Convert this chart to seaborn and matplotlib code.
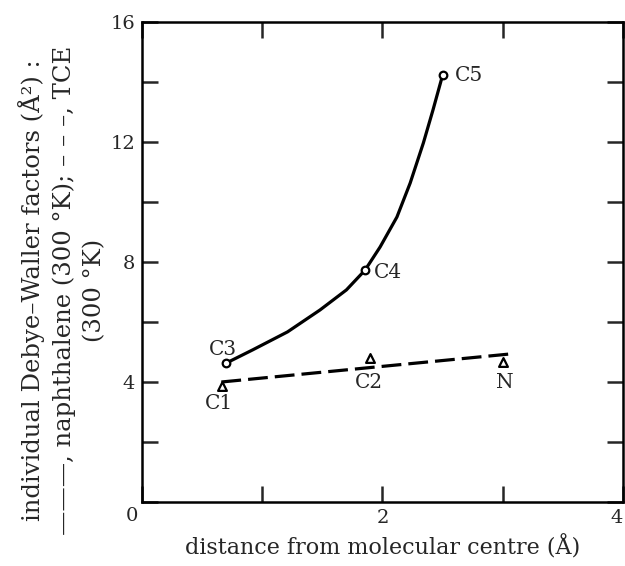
import matplotlib
matplotlib.use("Agg")
import matplotlib.pyplot as plt
import seaborn as sns
import pandas as pd

# naphthalene (solid curve)
naph_x = [0.70, 0.92, 1.21, 1.48, 1.70, 1.855, 1.98, 2.12, 2.23, 2.34, 2.42, 2.50]
naph_y = [4.63, 5.07, 5.67, 6.40, 7.07, 7.73, 8.50, 9.50, 10.63, 11.97, 13.07, 14.23]
# naphthalene atoms (open circles)
naph_atom_x = [0.70, 1.855, 2.50]
naph_atom_y = [4.63, 7.73, 14.23]
naph_labels = ["C3", "C4", "C5"]

# TCE dashed fit line and atoms (open triangles)
tce_line_x = [0.66, 3.05]
tce_line_y = [4.00, 4.93]
tce_atom_x = [0.665, 1.90, 3.00]
tce_atom_y = [3.87, 4.80, 4.67]
tce_labels = ["C1", "C2", "N"]

sns.set_theme(style="ticks")
plt.rcParams["font.family"] = ["DejaVu Serif"]
plt.rcParams["mathtext.fontset"] = "dejavuserif"

fig = plt.figure(figsize=(6.25, 5.66), dpi=100)
ax = fig.add_axes([142 / 625, 1 - 502 / 566, 481 / 625, 480 / 566])

df_n = pd.DataFrame({"x": naph_x, "y": naph_y})
df_t = pd.DataFrame({"x": tce_line_x, "y": tce_line_y})
sns.lineplot(data=df_n, x="x", y="y", sort=False, estimator=None, ax=ax,
             color="black", lw=2.3, solid_joinstyle="round")
sns.lineplot(data=df_t, x="x", y="y", sort=False, estimator=None, ax=ax,
             color="black", lw=2.3, linestyle=(0, (6.2, 2.2)))
sns.scatterplot(x=naph_atom_x, y=naph_atom_y, ax=ax, marker="o", s=30,
                facecolor="white", edgecolor="black", linewidth=1.6, zorder=5)
sns.scatterplot(x=tce_atom_x, y=tce_atom_y, ax=ax, marker="^", s=40,
                facecolor="white", edgecolor="black", linewidth=1.6, zorder=5)

fs_lab = 14.5
# point labels
offsets = {"C3": (-3, 14), "C4": (23, -2), "C5": (26, 0),
           "C1": (-3, -18), "C2": (-2, -24), "N": (2, -21)}
for xs, ys, labs in [(naph_atom_x, naph_atom_y, naph_labels),
                     (tce_atom_x, tce_atom_y, tce_labels)]:
    for x, y, t in zip(xs, ys, labs):
        ox, oy = offsets[t]
        ax.annotate(t, xy=(x, y), xytext=(ox, oy), textcoords="offset pixels",
                    ha="center", va="center", fontsize=fs_lab)

ax.set_xlim(0, 4)
ax.set_ylim(0, 16)
ax.set_xticks([0, 1, 2, 3, 4])
ax.set_xticklabels(["", "", "2", "", "4"])
ax.set_yticks(range(0, 17, 2))
ax.set_yticklabels(["", "", "4", "", "8", "", "12", "", "16"])
ax.get_xticklabels()[4].set_horizontalalignment("right")
ax.annotate("0", xy=(0, 0), xytext=(-10, -14), textcoords="offset pixels",
            ha="center", va="center", fontsize=14)
ax.tick_params(direction="in", length=11.5, width=1.8, top=True, right=True,
               labelsize=14, pad=5)
for s in ax.spines.values():
    s.set_linewidth(1.8)
    s.set_color("black")
    s.set_visible(True)

ax.set_xlabel("distance from molecular centre (Å)", fontsize=16, labelpad=6)
ax.set_ylabel("")
fig.text(62 / 625, 1 - 290 / 566,
         "individual Debye–Waller factors (Å²) :\n"
         "———, naphthalene (300 °K); – – –, TCE\n"
         "(300 °K)",
         rotation=90, ha="center", va="center", multialignment="center",
         fontsize=17.5, linespacing=1.4)

fig.savefig("out.png", dpi=100)
